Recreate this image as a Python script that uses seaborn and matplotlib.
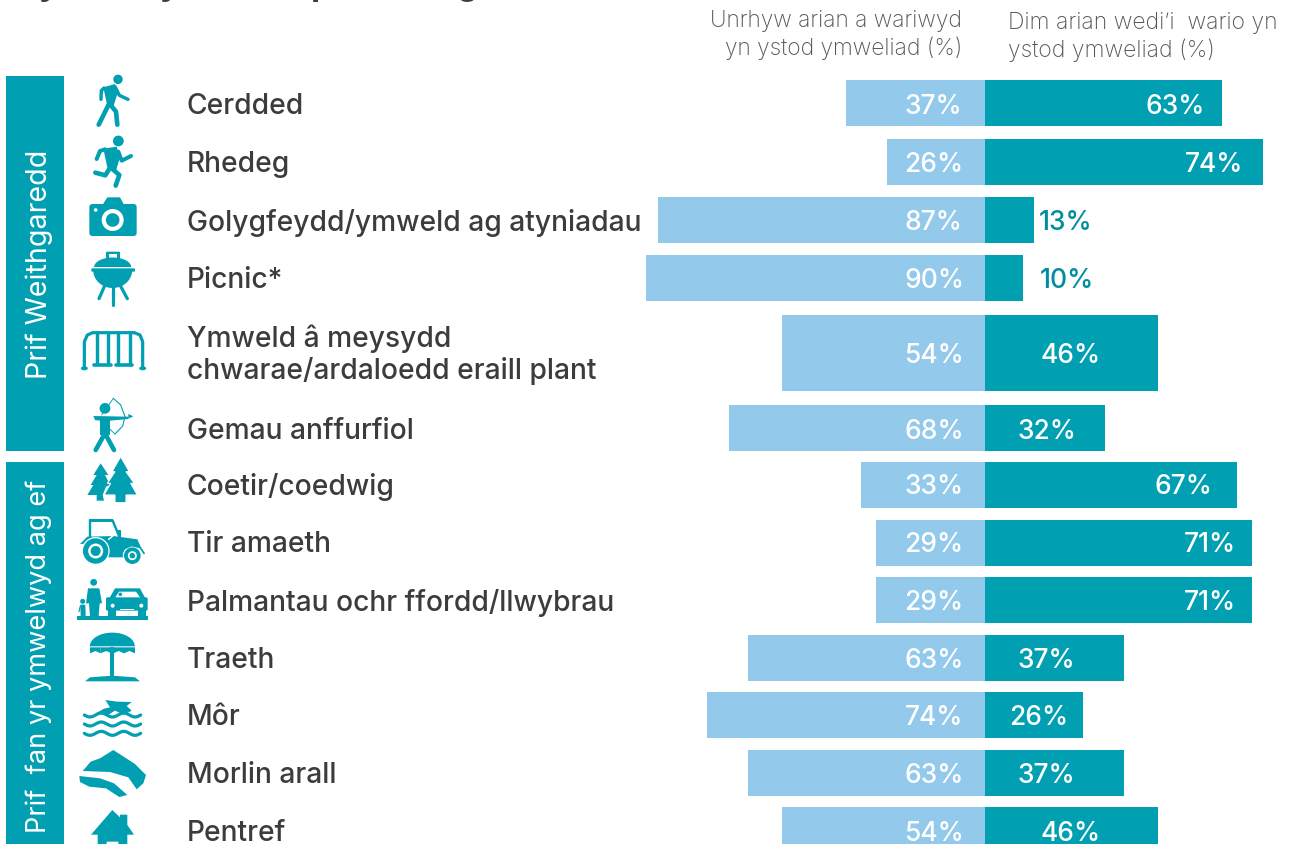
import numpy as np
import pandas as pd
import matplotlib
matplotlib.use("Agg")
import matplotlib.pyplot as plt
from matplotlib.patches import Circle, Ellipse, FancyBboxPatch, Polygon, Rectangle
import seaborn as sns

# Survey results by activity and place visited
categories = ["Cerdded", "Rhedeg", "Golygfeydd/ymweld ag atyniadau", "Picnic*",
              "Ymweld â meysydd\nchwarae/ardaloedd eraill plant", "Gemau anffurfiol",
              "Coetir/coedwig", "Tir amaeth", "Palmantau ochr ffordd/llwybrau",
              "Traeth", "Môr", "Morlin arall", "Pentref"]
money_spent = [37, 26, 87, 90, 54, 68, 33, 29, 29, 63, 74, 63, 54]
no_money_spent = [63, 74, 13, 10, 46, 32, 67, 71, 71, 37, 26, 37, 46]
header_spent = ["Unrhyw arian a wariwyd", "yn ystod ymweliad (%)"]
header_none = ["Dim arian wedi’i  wario yn", "ystod ymweliad (%)"]
group_labels = ["Prif Weithgaredd", "Prif  fan yr ymwelwyd ag ef"]

# Row layout in canvas pixels
row_centres = [103, 162, 220, 278, 353, 428, 485, 543, 600, 658, 715, 773, 830]
row_heights = [46, 46, 46, 46, 76, 46, 46, 46, 46, 46, 46, 46, 46]
right_label_centres = [1175, 1214, 1066, 1067, 1071, 1047, 1183, 1210, 1210, 1046, 1039, 1046, 1071]
label_offsets = [0, -1, -1, -1, -1, 0, -2, -2, -1, -1, -1, -1, 0]

W, H = 1289, 845
ZERO_PX = 985
PX_PER_PCT = 3.762
TEAL = "#009FB1"
SKY = "#93C9EB"
INK = "#3C3C3B"
BODY_FONT = ["Inter", "DejaVu Sans"]

sns.set_theme(style="white")
fig = plt.figure(figsize=(W / 100, H / 100), dpi=100, facecolor="white")

# Bars live on a percentage scale centred on the diverging baseline
ax = fig.add_axes([0, 0, 1, 1], facecolor="none")
df = pd.concat([
    pd.DataFrame({"row": row_centres, "share": -np.array(money_spent), "series": "spent"}),
    pd.DataFrame({"row": row_centres, "share": np.array(no_money_spent), "series": "none"}),
])
sns.barplot(data=df, x="share", y="row", hue="series", hue_order=["spent", "none"],
            palette={"spent": SKY, "none": TEAL}, orient="h", native_scale=True,
            dodge=False, legend=False, saturation=1, ax=ax)
for container in ax.containers:
    for patch, centre, height in zip(container.patches, row_centres, row_heights):
        patch.set_y(centre - height / 2)
        patch.set_height(height)
        patch.set_linewidth(0)
ax.set_xlim(-ZERO_PX / PX_PER_PCT, (W - ZERO_PX) / PX_PER_PCT)
ax.set_ylim(H - 1, -1)
ax.axis("off")

# Overlay in canvas pixels for labels, side bands and pictograms
ov = fig.add_axes([0, 0, 1, 1], facecolor="none")
ov.set_xlim(0, W)
ov.set_ylim(H - 1, -1)
ov.axis("off")


def fill(points, color=TEAL, ec="none", lw=0):
    ov.add_patch(Polygon(points, closed=True, fc=color, ec=ec, lw=lw))


def stroke(points, width, color=TEAL):
    xs, ys = zip(*points)
    ov.plot(xs, ys, color=color, lw=width * 0.72, solid_capstyle="round", solid_joinstyle="round")


def disc(x, y, r, color=TEAL):
    ov.add_patch(Circle((x, y), r, fc=color, ec="none"))


def box(x0, y0, x1, y1, color=TEAL):
    ov.add_patch(Rectangle((x0, y0), x1 - x0, y1 - y0, fc=color, ec="none"))


def rounded(x0, y0, x1, y1, r, color=TEAL):
    ov.add_patch(FancyBboxPatch((x0 + r, y0 + r), x1 - x0 - 2 * r, y1 - y0 - 2 * r,
                                boxstyle=f"round,pad={r}", fc=color, ec="none"))


def half_ellipse(cx, cy, rx, ry, upper=True, color=TEAL):
    t = np.linspace(0, np.pi, 40)
    sign = -1 if upper else 1
    fill(list(zip(cx + rx * np.cos(t), cy + sign * ry * np.sin(t))), color)


def mapper(ox, oy):
    return lambda pts: [(ox + a / 3, oy + b / 3) for a, b in pts]


# Side bands with rotated group titles
box(6, 76, 64, 451)
box(6, 462, 64, 846)
for text, bottom, size in zip(group_labels, (378, 832), (20.6, 19.6)):
    ov.text(39, bottom, text, rotation=90, color="white", fontsize=size, family=BODY_FONT,
            ha="center", va="bottom")

# Clipped heading descenders along the top edge
for x, letter in zip([49, 170, 321, 467], "yypg"):
    ov.text(x, -6.5, letter, color=INK, fontsize=24, weight="bold", family=BODY_FONT,
            ha="center", va="baseline")

# Column headers
for y, line in zip([20, 47], header_spent):
    ov.text(962, y, line, color="#555555", fontsize=16.4, family=BODY_FONT, weight="light",
            ha="right", va="center")
for y, line in zip([22, 49], header_none):
    ov.text(1008, y, line, color="#555555", fontsize=16.5, family=BODY_FONT, weight="light",
            ha="left", va="center")

# Row labels and value labels
for name, centre, offset, spent, none, right_x in zip(categories, row_centres, label_offsets,
                                                      money_spent, no_money_spent, right_label_centres):
    lines = name.split("\n")
    ys = [centre + offset] if len(lines) == 1 else [centre - 18, centre + 14]
    for line, y in zip(lines, ys):
        ov.text(187, y, line, color=INK, fontsize=20.3, family=BODY_FONT, weight="medium",
                ha="left", va="center_baseline")
    ov.text(904.5, centre + offset, f"{spent}%", color="white", fontsize=19, family=BODY_FONT,
            weight="medium", ha="left", va="center_baseline")
    outside = none <= 13
    ov.text(right_x, centre + offset, f"{none}%", color="#008E9F" if outside else "white",
            fontsize=19, family=BODY_FONT, weight="medium", ha="center", va="center_baseline")

# Walker
z = mapper(70, 70)
disc(*z([(144, 28)])[0], 4.7)
fill(z([(100, 52), (135, 42), (142, 72), (130, 110), (112, 108)]))
stroke(z([(102, 54), (94, 62), (93, 88)]), 3.4)
stroke(z([(135, 50), (148, 76), (174, 88)]), 3.4)
stroke(z([(118, 100), (86, 164)]), 4.6)
stroke(z([(118, 100), (138, 125), (142, 164)]), 4.6)

# Runner
disc(*z([(145, 213)])[0], 5.4)
fill(z([(100, 236), (140, 230), (150, 262), (138, 302), (112, 292)]))
stroke(z([(105, 238), (90, 243), (80, 267)]), 4)
stroke(z([(145, 245), (155, 272), (183, 258)]), 4)
stroke(z([(122, 290), (106, 316), (76, 308)]), 4.6)
stroke(z([(125, 295), (148, 315), (137, 347)]), 4.6)

# Camera
z = mapper(70, 190)
rounded(*z([(58, 42)])[0], *z([(200, 138)])[0], 3)
fill(z([(98, 44), (112, 22), (150, 22), (162, 44)]))
disc(*z([(128, 90)])[0], 11, "white")
disc(*z([(128, 90)])[0], 6.8)
disc(*z([(77, 60)])[0], 1.8, "white")

# Kettle barbecue
rounded(*z([(108, 185)])[0], *z([(150, 212)])[0], 1)
box(*z([(118, 193)])[0], *z([(140, 204)])[0], "white")
half_ellipse(*z([(128, 231)])[0], 18.5, 9.5)
rounded(*z([(64, 235)])[0], *z([(195, 245)])[0], 1)
half_ellipse(*z([(128, 240)])[0], 19.5, 18, upper=False)
stroke(z([(105, 285), (87, 326)]), 3.2)
stroke(z([(128, 290), (128, 344)]), 3.2)
stroke(z([(150, 285), (172, 326)]), 3.2)

# Swing frame
z = mapper(0, 300)
stroke(z([(253, 205), (253, 125), (262, 105), (278, 98), (403, 98), (420, 105), (428, 125), (428, 205)]), 3.2)
for fx in (253, 428):
    ov.add_patch(Ellipse(z([(fx, 205)])[0], 7, 4, fc=TEAL, ec="none"))
for a, b in ((290, 325), (355, 390)):
    stroke(z([(a, 98), (a, 193)]), 3.4)
    stroke(z([(b, 98), (b, 193)]), 3.4)
    stroke(z([(a - 7, 194), (b + 7, 194)]), 3.6)

# Archer
disc(*z([(315, 325)])[0], 5.4)
fill(z([(280, 348), (385, 350), (385, 357), (330, 362), (330, 405), (300, 405), (300, 362), (285, 360)]))
stroke(z([(315, 400), (287, 450)]), 4.6)
stroke(z([(315, 400), (342, 450)]), 4.6)
stroke(z([(340, 295), (362, 315), (375, 350), (368, 378), (345, 402)]), 1.1)
stroke(z([(340, 295), (305, 345)]), 0.9)
stroke(z([(345, 402), (330, 388)]), 0.9)
fill(z([(385, 342), (400, 349), (385, 356)]))

# Forest
z = mapper(0, 440)
fill(z([(302, 70), (325, 105), (315, 105), (330, 135), (318, 140), (308, 165), (312, 182), (290, 182),
        (290, 165), (262, 165), (280, 135), (272, 135), (290, 105), (280, 105)]))
fill(z([(362, 50), (388, 95), (378, 95), (403, 130), (392, 130), (412, 165), (378, 165), (378, 188),
        (345, 188), (345, 165), (312, 165), (332, 130), (322, 130), (345, 95), (336, 95)]),
     ec="white", lw=0.8)

# Tractor
box(*z([(268, 238)])[0], *z([(340, 245)])[0])
stroke(z([(270, 240), (270, 292)]), 2.4)
stroke(z([(338, 242), (358, 290)]), 2.4)
fill(z([(240, 312), (262, 290), (340, 288), (412, 298), (422, 320), (380, 332), (372, 352), (325, 352), (322, 310)]))
fill(z([(355, 292), (355, 270), (364, 270), (364, 292)]))
stroke(z([(326, 298), (345, 282)]), 1.6, "white")
disc(*z([(287, 333)])[0], 14, "white")
disc(*z([(287, 333)])[0], 12.7)
disc(*z([(287, 333)])[0], 7.5, "white")
disc(*z([(287, 333)])[0], 5)
disc(*z([(397, 347)])[0], 9.6, "white")
disc(*z([(397, 347)])[0], 8.3)
disc(*z([(397, 347)])[0], 4.5, "white")
disc(*z([(397, 347)])[0], 2.8)
stroke(z([(372, 326), (395, 316), (420, 322), (432, 340)]), 1.8)

# Pedestrians beside a car
box(*z([(232, 528)])[0], *z([(443, 541)])[0])
disc(*z([(281, 427)])[0], 3.4)
fill(z([(264, 445), (298, 445), (306, 490), (299, 490), (296, 528), (270, 528), (267, 490), (258, 490)]))
disc(*z([(248, 484)])[0], 2.5)
fill(z([(241, 494), (256, 494), (257, 528), (242, 528)]))
stroke(z([(241, 498), (237, 515)]), 1.2)
rounded(*z([(318, 472)])[0], *z([(443, 512)])[0], 1.5)
fill(z([(328, 475), (345, 445), (420, 445), (436, 475)]))
fill(z([(346, 472), (357, 455), (408, 455), (420, 472)]), "white")
disc(*z([(361, 463)])[0], 1.8)
box(*z([(325, 510)])[0], *z([(348, 536)])[0])
box(*z([(415, 510)])[0], *z([(439, 536)])[0])
disc(*z([(338, 497)])[0], 2, "white")
disc(*z([(424, 497)])[0], 2, "white")
box(*z([(360, 506)])[0], *z([(402, 510)])[0], "white")

# Parasol
half_ellipse(*z([(337, 619)])[0], 22.5, 13.7)
for a, b in ((270, 302), (302, 335), (340, 372), (372, 405)):
    fill(z([(a, 622), (b, 622), (b, 640), ((a + b) / 2, 633), (a, 640)]))
box(*z([(331, 622)])[0], *z([(343, 712)])[0])
fill(z([(255, 724), (270, 712), (337, 707), (405, 712), (420, 724)]))

# Sea with a leaping fish
for wave_y in (825, 852, 880):
    xs = np.linspace(253, 422, 40)
    stroke(z(list(zip(xs, wave_y + 6 * np.sin((xs - 253) / 169 * 5 * np.pi)))), 3.2)
fill(z([(288, 820), (312, 806), (330, 802), (316, 780), (352, 785), (395, 786), (380, 798), (395, 812),
        (372, 824), (345, 812), (322, 826)]))

# Coastline
fill(z([(340, 930), (405, 972), (438, 1005), (430, 1030), (410, 1048), (385, 1012), (330, 996),
        (248, 993), (272, 965), (300, 955)]))
fill(z([(238, 1008), (300, 1015), (342, 1030), (382, 1065), (358, 1071), (318, 1045), (268, 1040), (240, 1026)]))

# Village house, running off the bottom edge
fill(z([(337, 1110), (360, 1132), (360, 1124), (382, 1124), (382, 1155), (402, 1184), (382, 1184), (382, 1218),
        (355, 1218), (355, 1205), (320, 1205), (320, 1218), (293, 1218), (293, 1184), (273, 1184)]))

fig.savefig("out.png", dpi=100, facecolor="white")
